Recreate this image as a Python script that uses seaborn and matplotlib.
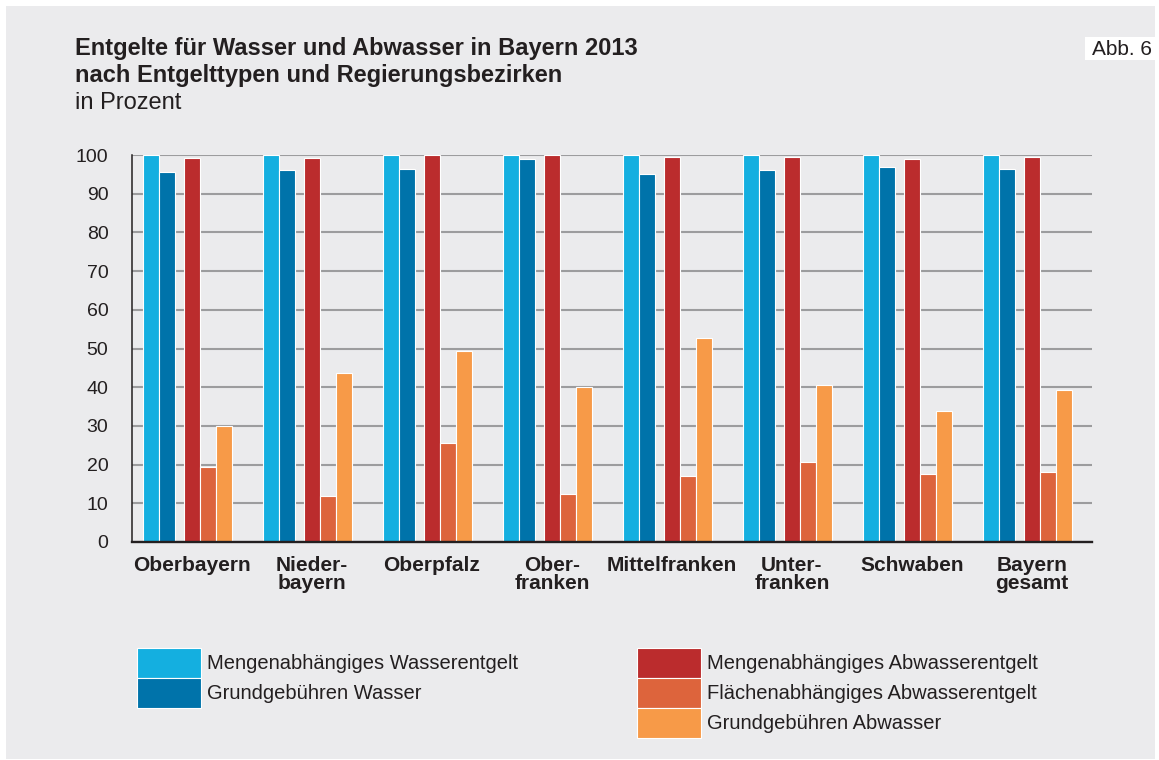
import numpy as np
import pandas as pd
import matplotlib
matplotlib.use("Agg")
import matplotlib.pyplot as plt
import matplotlib.patches as mpatches
import seaborn as sns

# ---------------- data ----------------
regions = ["Oberbayern", "Nieder-\nbayern", "Oberpfalz", "Ober-\nfranken",
           "Mittelfranken", "Unter-\nfranken", "Schwaben", "Bayern\ngesamt"]
series = ["Mengenabhängiges Wasserentgelt", "Grundgebühren Wasser",
          "Mengenabhängiges Abwasserentgelt", "Flächenabhängiges Abwasserentgelt",
          "Grundgebühren Abwasser"]
mengen_wasser = [100.0, 100.0, 100.0, 100.0, 100.0, 100.0, 100.0, 100.0]
grund_wasser = [95.7, 96.1, 96.3, 99.0, 95.2, 96.1, 97.0, 96.3]
mengen_abwasser = [99.3, 99.1, 99.9, 99.9, 99.4, 99.6, 99.0, 99.4]
flaechen_abwasser = [19.4, 11.9, 25.5, 12.5, 17.0, 20.7, 17.6, 18.0]
grund_abwasser = [30.0, 43.7, 49.4, 40.0, 52.7, 40.5, 33.8, 39.4]
yticks = list(range(0, 101, 10))

values = [mengen_wasser, grund_wasser, mengen_abwasser, flaechen_abwasser, grund_abwasser]
colors = ["#14afe0", "#0073aa", "#bb2c2d", "#dd643c", "#f79a48"]

# ---------------- layout helpers ----------------
W, H = 1159, 760
group_px = 120.0
bar_px = 16.0
bar_left_px = [11, 27, 52, 68, 84]          # left edges of bars inside a group
offsets = [(l + bar_px / 2) / group_px for l in bar_left_px]

rows = []
for s_i, (name, vals) in enumerate(zip(series, values)):
    for g_i, v in enumerate(vals):
        rows.append({"pos": g_i + offsets[s_i], "value": v, "series": name})
df = pd.DataFrame(rows)

sns.set_theme(style="white")
plt.rcParams["font.family"] = ["Liberation Sans", "DejaVu Sans"]
TXT = "#231f20"
GRID = "#9c9c9e"
BG = "#ebebed"

fig = plt.figure(figsize=(W / 100, H / 100), dpi=100, facecolor="white")
fig.patches.append(mpatches.Rectangle((6 / W, 1 - 759 / H), 1149 / W, 753 / H,
                                      transform=fig.transFigure, facecolor=BG,
                                      edgecolor="none", zorder=-10))

ax = fig.add_axes([132 / W, 1 - 542 / H, 960 / W, 387 / H])
ax.set_facecolor("none")
ax.set_zorder(1)

sns.barplot(data=df, x="pos", y="value", hue="series", hue_order=series,
            palette=colors, saturation=1, native_scale=True, dodge=False, width=1.0,
            edgecolor="white", linewidth=0.8, legend=False, ax=ax, zorder=3)

ax.set_xlim(0, 8)
ax.set_ylim(0, 100)
ax.set_xticks([i + 0.5 for i in range(len(regions))])
ax.set_xticklabels(regions, fontsize=15, fontweight="bold", color=TXT)
for t in ax.get_xticklabels():
    t.set_linespacing(0.93)
ax.set_yticks(yticks)
ax.set_yticklabels([str(v) for v in yticks], fontsize=14, color=TXT)
ax.tick_params(axis="x", length=0, pad=10)
ax.tick_params(axis="y", length=6, width=1.4, color=GRID, pad=11)
ax.set_xlabel("")
ax.set_ylabel("")
ax.set_axisbelow(True)
ax.yaxis.grid(True, color=GRID, linewidth=1.5)
ax.xaxis.grid(False)
for side in ["top", "right"]:
    ax.spines[side].set_visible(False)
ax.spines["left"].set_color(TXT)
ax.spines["left"].set_linewidth(1.1)
ax.spines["bottom"].set_color(TXT)
ax.spines["bottom"].set_linewidth(1.7)
ax.spines["left"].set_zorder(4)
ax.spines["bottom"].set_zorder(4)

# ---------------- titles ----------------
fig.text(75 / W, 1 - 55 / H, "Entgelte für Wasser und Abwasser in Bayern 2013",
         fontsize=17, fontweight="bold", color=TXT, va="baseline", ha="left")
fig.text(75 / W, 1 - 82 / H, "nach Entgelttypen und Regierungsbezirken",
         fontsize=17, fontweight="bold", color=TXT, va="baseline", ha="left")
fig.text(75 / W, 1 - 109 / H, "in Prozent",
         fontsize=17, color=TXT, va="baseline", ha="left")

fig.patches.append(mpatches.Rectangle((1085 / W, 1 - 60 / H), 70 / W, 23 / H,
                                      transform=fig.transFigure, facecolor="white",
                                      edgecolor="none", zorder=1))
fig.text(1152 / W, 1 - 55 / H, "Abb. 6", fontsize=15, color=TXT,
         va="baseline", ha="right", zorder=2)

# ---------------- legends ----------------
handles = [mpatches.Patch(facecolor=c, edgecolor="white", linewidth=0.8) for c in colors]
leg_kw = dict(frameon=False, fontsize=14.5, handlelength=3.18, handleheight=1.915,
              labelspacing=0.0, handletextpad=0.3, borderpad=0.0, borderaxespad=0.0,
              loc="upper left", labelcolor=TXT)
fig.legend(handles[:2], series[:2], bbox_to_anchor=(137 / W, 1 - 648 / H), **leg_kw)
fig.legend(handles[2:], series[2:], bbox_to_anchor=(637 / W, 1 - 648 / H), **leg_kw)

fig.savefig("out.png", dpi=100, facecolor="white")
